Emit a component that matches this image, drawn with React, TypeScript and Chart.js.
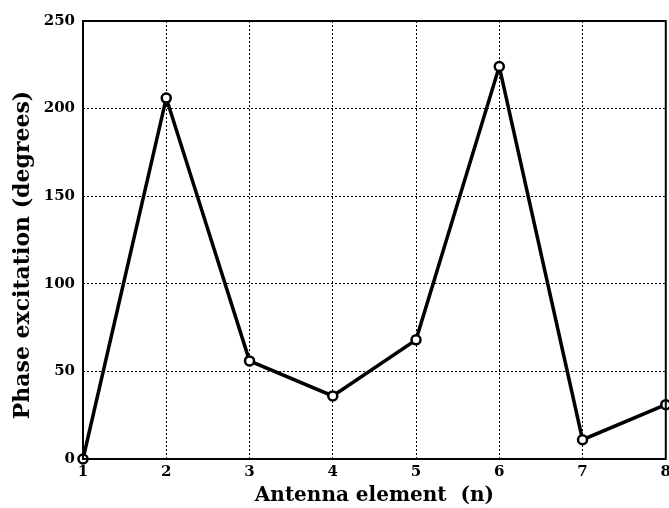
import React, { useEffect, useRef } from "react";
import { Chart, registerables } from "chart.js";

Chart.register(...registerables);

const elements = [1, 2, 3, 4, 5, 6, 7, 8];
const phase = [0, 206, 56, 36, 68, 224, 11, 31];
const yTicks = [0, 50, 100, 150, 200, 250];
const yTitle = "Phase excitation (degrees)";
const xTitle = "Antenna element  (n)";

const FONT = "'DejaVu Serif', 'Liberation Serif', serif";

const borderPlugin = {
  id: "plotBorder",
  afterDatasetsDraw(chart: any) {
    const { ctx, chartArea } = chart;
    ctx.save();
    ctx.strokeStyle = "#000";
    ctx.lineWidth = 2;
    ctx.strokeRect(chartArea.left, chartArea.top, chartArea.right - chartArea.left, chartArea.bottom - chartArea.top);
    // y title
    ctx.translate(23, (chartArea.top + chartArea.bottom) / 2 + 15);
    ctx.rotate(-Math.PI / 2);
    ctx.fillStyle = "#000";
    ctx.font = `bold 22px ${FONT}`;
    ctx.textAlign = "center";
    ctx.textBaseline = "middle";
    ctx.fillText(yTitle, 0, 0);
    ctx.restore();
  },
};

export default function App() {
  const ref = useRef<HTMLCanvasElement | null>(null);
  useEffect(() => {
    if (!ref.current) return;
    const chart = new Chart(ref.current, {
      type: "line",
      data: {
        datasets: [
          {
            data: elements.map((e, i) => ({ x: e, y: phase[i] })),
            borderColor: "#000",
            borderWidth: 3.5,
            pointRadius: 4.5,
            pointBorderWidth: 2.5,
            pointBackgroundColor: "#fff",
            pointBorderColor: "#000",
            tension: 0,
            clip: false as any,
          },
        ],
      },
      options: {
        responsive: false,
        animation: false,
        layout: { padding: { top: 21, right: 0, left: 0, bottom: 0 } },
        plugins: { legend: { display: false }, tooltip: { enabled: false } },
        scales: {
          x: {
            type: "linear",
            min: 1,
            max: 8,
            afterBuildTicks: (s: any) => {
              s.ticks = elements.map((v) => ({ value: v }));
            },
            afterFit: (s: any) => {
              s.height = 508 - 459;
            },
            grid: { color: "#000", lineWidth: 1, drawTicks: false } as any,
            border: { display: false, dash: [2, 2] } as any,
            ticks: {
              color: "#000",
              padding: 4,
              font: { family: FONT, size: 15, weight: "bold" },
            },
            title: {
              display: true,
              text: xTitle,
              color: "#000",
              padding: { top: 0, bottom: 0 },
              font: { family: FONT, size: 20, weight: "bold" },
            },
          },
          y: {
            min: 0,
            max: 250,
            afterBuildTicks: (s: any) => {
              s.ticks = yTicks.map((v) => ({ value: v }));
            },
            afterFit: (s: any) => {
              s.width = 83;
            },
            grid: { color: "#000", lineWidth: 1, drawTicks: false } as any,
            border: { display: false, dash: [2, 2] } as any,
            ticks: {
              color: "#000",
              padding: 8,
              font: { family: FONT, size: 15, weight: "bold" },
            },
          },
        },
      },
      plugins: [borderPlugin],
    });
    return () => chart.destroy();
  }, []);
  return (
    <div style={{ position: "absolute", left: 0, top: 0, width: 669, height: 508, overflow: "hidden", background: "#fff" }}>
      <canvas ref={ref} width={675} height={508} />
    </div>
  );
}
